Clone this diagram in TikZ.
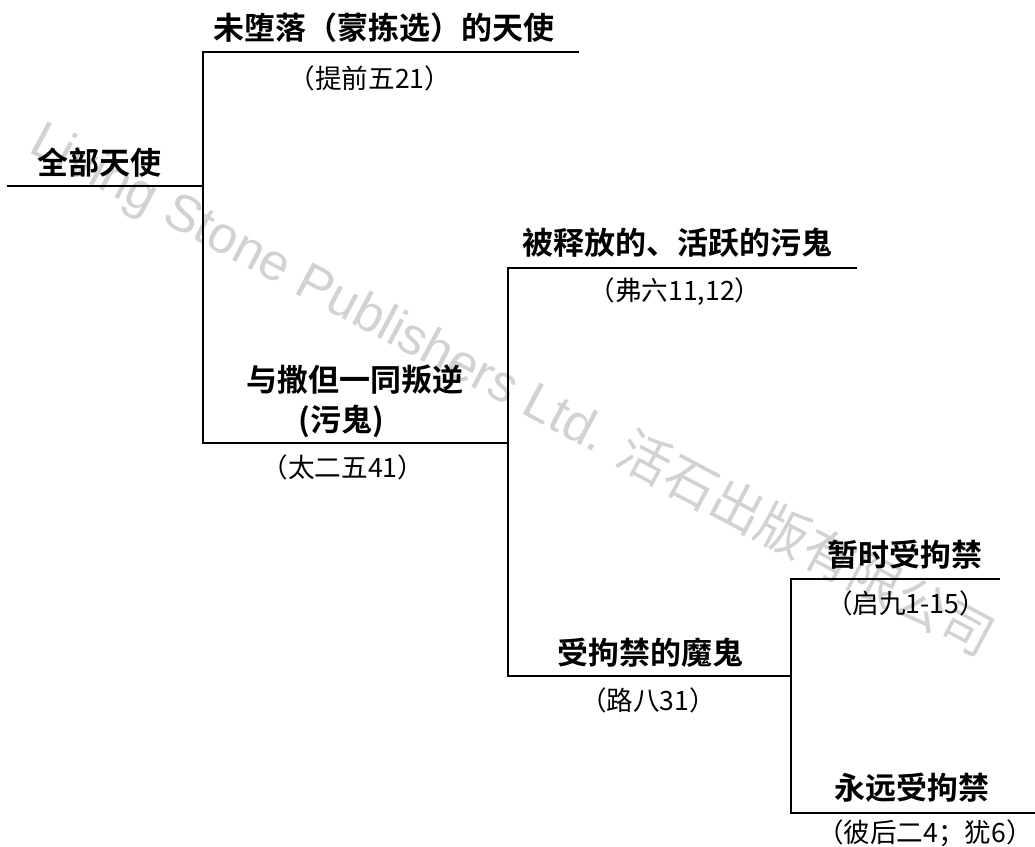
\documentclass[tikz,border=0pt]{standalone}
\usepackage{fontspec}
\newfontfamily\cjk{Noto Sans CJK SC}[BoldFont={Noto Sans CJK SC Bold}]
\newfontfamily\wmfont{Liberation Sans}
\begin{document}
\begin{tikzpicture}[x=0.5pt,y=-0.5pt,
    head/.style={inner sep=0pt,font=\cjk\bfseries\fontsize{15.5}{18}\selectfont},
    ref/.style={inner sep=0pt,font=\cjk\fontsize{13.3}{16}\selectfont},
    bracket/.style={line width=1pt,line cap=rect}]
      \useasboundingbox (0,0) rectangle (1035,847);
      % watermark
      \node[gray!35,rotate=-28,inner sep=0pt,font=\wmfont\fontsize{26}{30}\selectfont] (wm) at (512,390)
        {Living Stone Publishers Ltd. {\cjk 活石出版有限公司}};
      % junctions
      \coordinate (r0) at (8,186);
      \coordinate (a0) at (203,52);  \coordinate (a1) at (578,52);
      \coordinate (b0) at (203,443); \coordinate (b1) at (508,443);
      \coordinate (c0) at (508,268); \coordinate (c1) at (856,268);
      \coordinate (d0) at (508,676); \coordinate (d1) at (791,676);
      \coordinate (e0) at (791,579); \coordinate (e1) at (999,579);
      \coordinate (f0) at (791,813); \coordinate (f1) at (1035,813);
      \draw[bracket] (r0) -- (a0 |- r0);
      \draw[bracket] (a1) -- (a0) -- (b0) -- (b1);
      \draw[bracket] (c1) -- (c0) -- (d0) -- (d1);
      \draw[bracket] (e1) -- (e0) -- (f0) -- (f1);
      % labels
      \node[head] (all) at (100,163) {全部天使};
      \node[head] (elect) at (384,28) {未堕落（蒙拣选）的天使};
      \node[ref] (elect-r) at (370,78) {（提前五21）};
      \node[head] (rebel) at (355,380) {与撒但一同叛逆};
      \node[head] (rebel2) at (341,421) {(污鬼)};
      \node[ref] (rebel-r) at (343,467) {（太二五41）};
      \node[head] (free) at (677,243) {被释放的、活跃的污鬼};
      \node[ref] (free-r) at (675,292) {（弗六11,12）};
      \node[head] (bound) at (650,653) {受拘禁的魔鬼};
      \node[ref] (bound-r) at (648,700) {（路八31）};
      \node[head] (temp) at (905,555) {暂时受拘禁};
      \node[ref] (temp-r) at (906,603) {（启九1-15）};
      \node[head] (ever) at (912,788) {永远受拘禁};
      \node[ref] (ever-r) at (925,833) {（彼后二4；犹6）};
\end{tikzpicture}
\end{document}
